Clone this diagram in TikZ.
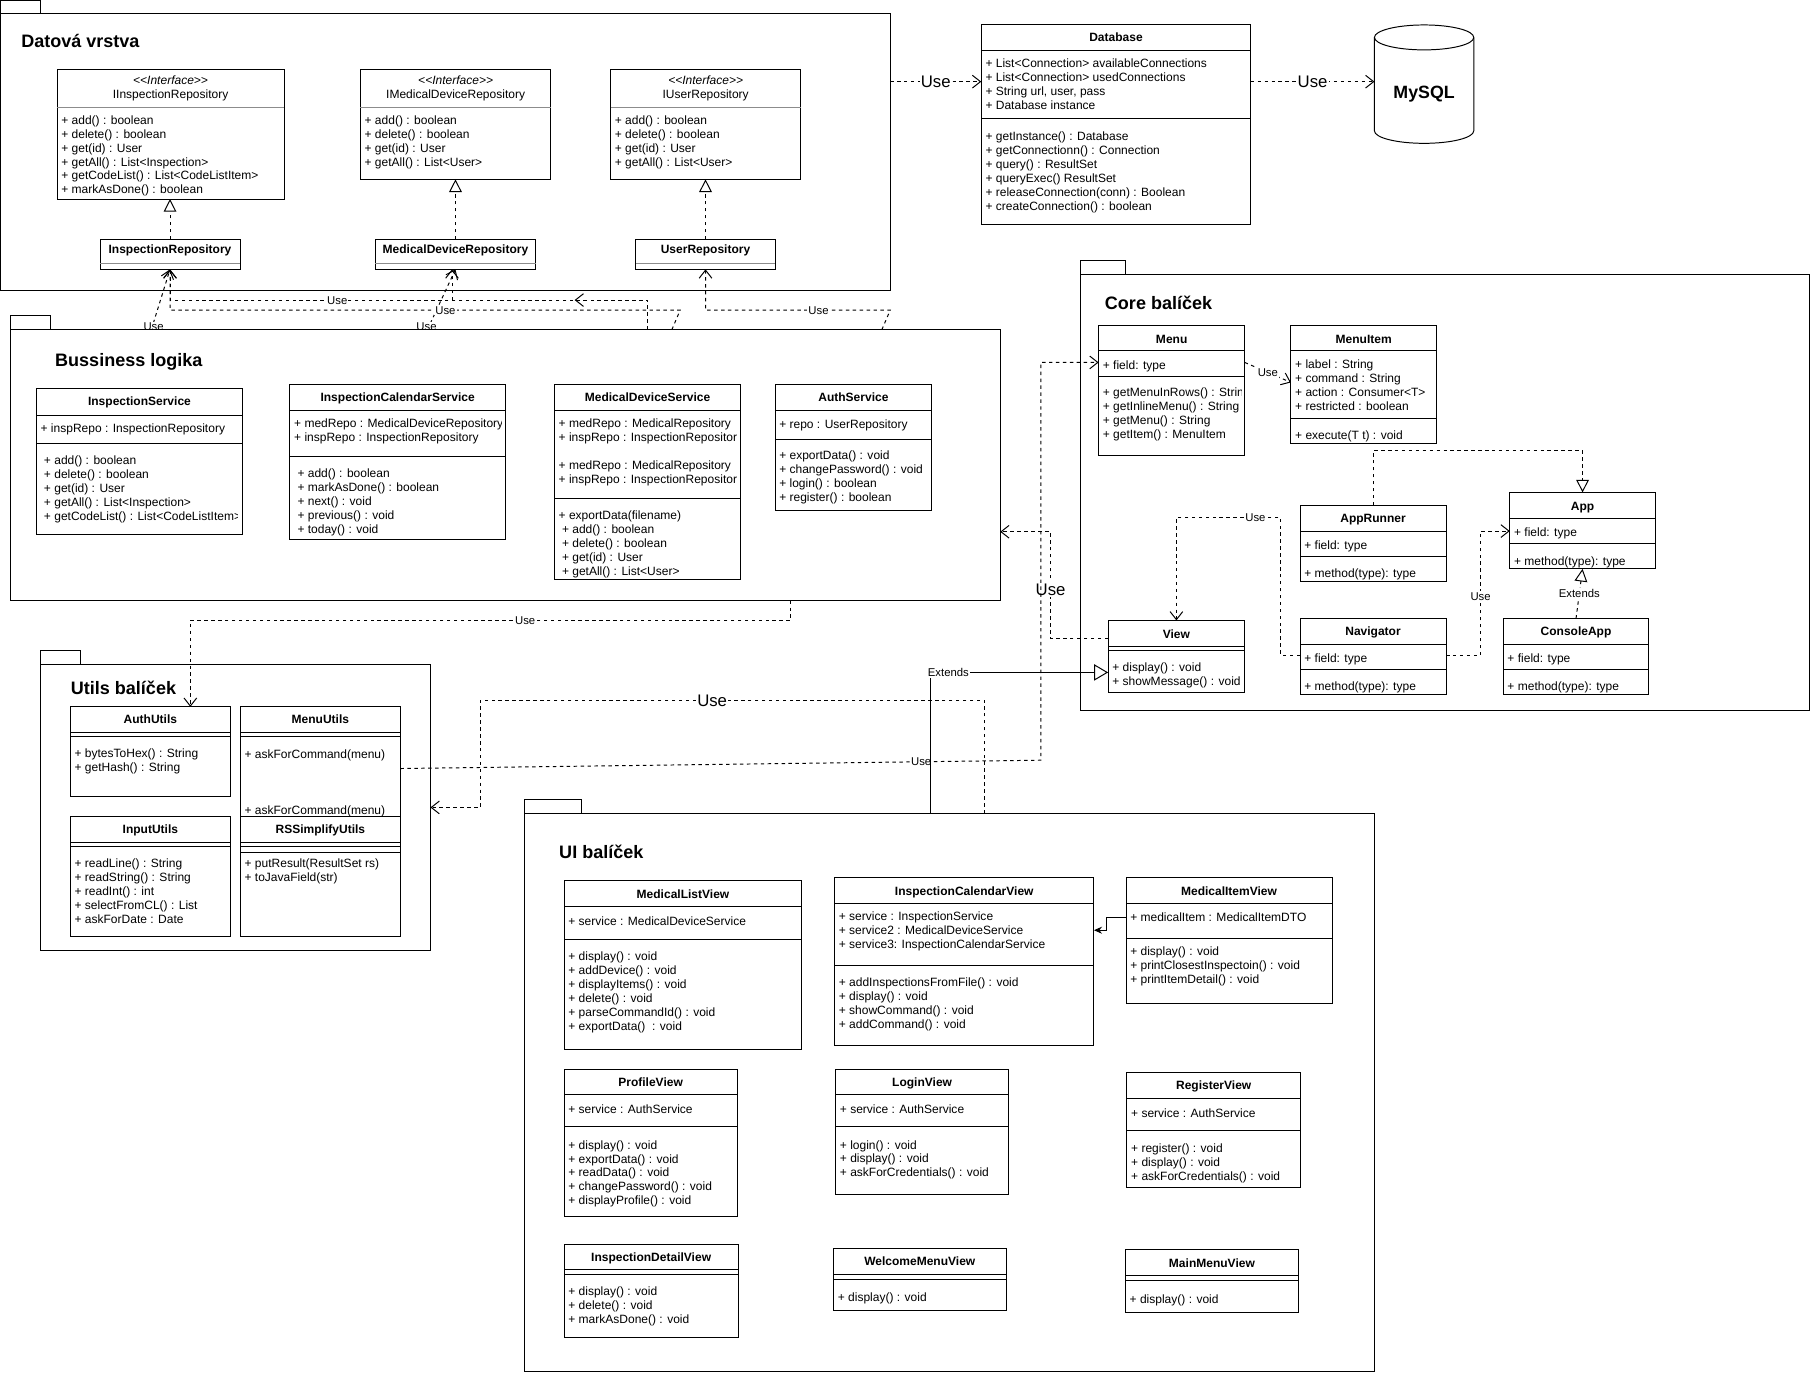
\documentclass[tikz,border=0pt]{standalone}
\usepackage{fontspec}
\setmainfont{Liberation Sans}
\newfontfamily\stereofont{Liberation Sans}
\usetikzlibrary{arrows.meta,calc,positioning}

\newcommand{\clsfont}{\fontsize{10.4pt}{12.1pt}\selectfont}
% class box: [sep style]{name}{top left}{width}{height}{separator rows}
\newcommand{\umlclass}[6][clsline]{%
  \node[clsbox, minimum width=#4pt, minimum height=#5pt, anchor=north west] (#2) at (#3) {};
  \foreach \s in {#6} {\draw[#1] (#2.west |- 0,\s) -- (#2.east |- 0,\s);}%
}
\newcommand{\umltitle}[3]{\node[clstitle] (#1-t) at (#1.north |- 0,#2) {#3};}
\newcommand{\umlname}[3]{\node[clsname] (#1-n) at (#1.north |- 0,#2) {#3};}
\newcommand{\umlstereo}[2]{\node[clsstereo] (#1-s) at (#1.north |- 0,#2) {{<}{<}Interface{>}{>}};}
\newcommand{\umlrows}[4]{\node[clsrows, xshift=3.5pt, yshift=4.8pt] (#1-#2) at (#1.west |- 0,#3) {#4};}
% package: {name}{top left}{width}{height}{tab width}
\newcommand{\umlpkg}[5]{%
  \draw[pkgbox] ($(#2)+(0,-12)$) rectangle ++(#5,12);
  \node[pkgbox, minimum width=#3pt, minimum height=#4pt, anchor=north west] (#1) at (#2) {};
}

\begin{document}
\begin{tikzpicture}[x=1pt, y=-1pt,
    pkgbox/.style={draw, fill=white, line width=0.85pt, inner sep=0pt, outer sep=0pt},
    clsbox/.style={draw, fill=white, line width=0.85pt, inner sep=0pt, outer sep=0pt},
    clsline/.style={line width=0.85pt},
    grayline/.style={line width=0.85pt, draw=black!45},
    clstitle/.style={font=\bfseries\clsfont, inner sep=0pt, text height=8pt, text depth=1pt},
    clsname/.style={font=\clsfont, inner sep=0pt, text height=8pt, text depth=1pt},
    clsstereo/.style={font=\stereofont\itshape\clsfont, inner sep=0pt, text height=8pt, text depth=1pt},
    clsrows/.style={font=\clsfont, anchor=north west, align=left, inner sep=0pt, execute at begin node=\strut},
    pkgtitle/.style={font=\bfseries\fontsize{15.6pt}{18pt}\selectfont, anchor=west, inner sep=0pt, text height=11.2pt, text depth=0pt},
    lbl/.style={fill=white, inner sep=1pt, font=\fontsize{9.8pt}{11pt}\selectfont, text height=7pt, text depth=0pt},
    biglbl/.style={fill=white, inner sep=1pt, font=\fontsize{14.5pt}{17pt}\selectfont, text height=10.4pt, text depth=0pt},
    conn/.style={line width=0.85pt},
    usearrow/.style={conn, dash pattern=on 3pt off 3pt, -{Straight Barb[length=7pt, width=11pt]}},
    realarrow/.style={conn, dash pattern=on 3pt off 3pt, -{Triangle[open, length=11pt, width=11pt]}},
    extarrow/.style={conn, -{Triangle[open, length=12pt, width=14pt]}},
    assocarrow/.style={conn, -{Stealth[length=7pt, width=6pt]}}]
  \useasboundingbox (0,0) rectangle (1568,1188);

  % Datova vrstva
  \umlpkg{dv}{0,12}{770.7}{239.4}{35.2}
  \node[pkgtitle] (dv-t) at (18.3,35.5) {Datová vrstva};
  \umlclass[grayline]{iir}{49.4,59.8}{196.6}{112.5}{92.9}
  \umlstereo{iir}{69.3}
  \umlname{iir}{81.4}{IInspectionRepository}
  \umlrows{iir}{m}{104.5}{+ add() : boolean\\+ delete() : boolean\\+ get(id) : User\\+ getAll() : List<Inspection>\\+ getCodeList() : List<CodeListItem>\\+ markAsDone() : boolean}
  \umlclass[grayline]{irepo}{86.6,207}{121.2}{26.2}{228}
  \umltitle{irepo}{216.2}{InspectionRepository}
  \umlclass[grayline]{imdr}{312,59.8}{165}{95.5}{92.9}
  \umlstereo{imdr}{69.3}
  \umlname{imdr}{81.4}{IMedicalDeviceRepository}
  \umlrows{imdr}{m}{104.5}{+ add() : boolean\\+ delete() : boolean\\+ get(id) : User\\+ getAll() : List<User>}
  \umlclass[grayline]{mdr}{324.8,207}{139.1}{26.2}{228}
  \umltitle{mdr}{216.2}{MedicalDeviceRepository}
  \umlclass[grayline]{iur}{528.6,59.8}{164.8}{95.5}{92.9}
  \umlstereo{iur}{69.3}
  \umlname{iur}{81.4}{IUserRepository}
  \umlrows{iur}{m}{104.5}{+ add() : boolean\\+ delete() : boolean\\+ get(id) : User\\+ getAll() : List<User>}
  \umlclass[grayline]{ur}{550.5,207}{120.7}{26.2}{228}
  \umltitle{ur}{216.2}{UserRepository}
  \draw[realarrow] (irepo.north) -- (irepo.north |- iir.south);
  \draw[realarrow] (mdr.north) -- (mdr.north |- imdr.south);
  \draw[realarrow] (ur.north) -- (ur.north |- iur.south);

  % Database, MySQL
  \umlclass{db}{849.6,20.8}{233.3}{173.2}{43.9,102.2}
  \umltitle{db}{32.6}{Database}
  \umlrows{db}{a}{55.4}{+ List<Connection> availableConnections\\+ List<Connection> usedConnections\\+ String url, user, pass\\+ Database instance}
  \umlrows{db}{m}{118.9}{+ getInstance() : Database\\+ getConnectionn() : Connection\\+ query() : ResultSet\\+ queryExec() ResultSet\\+ releaseConnection(conn) : Boolean\\+ createConnection() : boolean}
  \node[inner sep=0pt, outer sep=0pt, minimum width=86pt, minimum height=102.5pt, anchor=north west] (mysql) at (1190,21.6) {};
  \draw[clsline, fill=white] ($(mysql.north west)+(0,10.8)$) -- ($(mysql.south west)+(0,-10.8)$)
    arc[start angle=180, end angle=360, x radius=43pt, y radius=10.8pt] -- ($(mysql.north east)+(0,10.8)$)
    arc[start angle=0, end angle=180, x radius=43pt, y radius=10.8pt] -- cycle;
  \draw[clsline] ($(mysql.north west)+(0,10.8)$) arc[start angle=180, end angle=360, x radius=43pt, y radius=10.8pt];
  \node[font=\bfseries\fontsize{15.4pt}{18pt}\selectfont, inner sep=0pt, text height=11pt, text depth=0pt] (mysql-t) at (1233,80) {MySQL};
  \draw[usearrow] (dv.east |- 0,70.7) -- (db.west |- 0,70.7) node[biglbl, midway] (u1) {Use};
  \draw[usearrow] (db.east |- 0,70.7) -- (mysql.west |- 0,70.7) node[biglbl, midway] (u2) {Use};

  % services -> repositories
  \coordinate (tA) at (560.6,285.5);
  \coordinate (tB) at (581.7,285.5);
  \coordinate (tC) at (131,285.5);
  \coordinate (tD) at (370,285.5);
  \coordinate (tF) at (763.5,285.5);
  \draw[usearrow] (tA) |- ($(irepo.south)+(0,26.6)$) -- (irepo.south);
  \draw[usearrow] (tB) -- (588.9,268.5) -| (irepo.south);
  \draw[usearrow] (tC) -- (irepo.south);
  \draw[usearrow] (tD) -- (mdr.south);
  \draw[usearrow] ($(mdr.south)+(-3,26.6)$) -- ($(mdr.south)+(-3,0)$);
  \draw[usearrow] (507.5,259.8) -- (497.5,259.8);
  \draw[usearrow] (tF) -- (770.8,268.5) -| (ur.south);
  \node[lbl] (u3) at (292,259.8) {Use};
  \node[lbl] (u4) at (385.7,268.5) {Use};
  \node[lbl] (u5) at (133,283) {Use};
  \node[lbl] (u6) at (369.3,283) {Use};
  \node[lbl] (u7) at (708.7,268.5) {Use};

  % Bussiness logika
  \umlpkg{bl}{9,285.5}{857}{234.5}{35}
  \node[pkgtitle] (bl-t) at (47.6,312) {Bussiness logika};
  \umlclass{isvc}{31.5,336.6}{178.5}{126.4}{359.4,384}
  \umltitle{isvc}{348}{InspectionService}
  \umlrows{isvc}{a}{370.4}{+ inspRepo : InspectionRepository}
  \begin{scope}
    \clip (isvc.north west) rectangle ([xshift=-4.5pt]isvc.south east);
    \umlrows{isvc}{m}{399}{~+ add() : boolean\\~+ delete() : boolean\\~+ get(id) : User\\~+ getAll() : List<Inspection>\\~+ getCodeList() : List<CodeListItem>}
  \end{scope}
  \umlclass{icsvc}{251,332.6}{186.6}{134.2}{355,395.5}
  \umltitle{icsvc}{344.4}{InspectionCalendarService}
  \begin{scope}
    \clip (icsvc.north west) rectangle ([xshift=-3.5pt]icsvc.south east);
    \umlrows{icsvc}{a}{367.2}{+ medRepo : MedicalDeviceRepository\\+ inspRepo : InspectionRepository}
  \end{scope}
  \umlrows{icsvc}{m}{410.2}{~+ add() : boolean\\~+ markAsDone() : boolean\\~+ next() : void\\~+ previous() : void\\~+ today() : void}
  \umlclass{mdsvc}{480,332.6}{161.4}{169.4}{355,432}
  \umltitle{mdsvc}{344.4}{MedicalDeviceService}
  \begin{scope}
    \clip (mdsvc.north west) rectangle ([xshift=-3.5pt]mdsvc.south east);
    \umlrows{mdsvc}{a}{367.2}{+ medRepo : MedicalRepository\\+ inspRepo : InspectionRepository\\[12.1pt]+ medRepo : MedicalRepository\\+ inspRepo : InspectionRepository}
  \end{scope}
  \umlrows{mdsvc}{m}{446.6}{+ exportData(filename)\\~+ add() : boolean\\~+ delete() : boolean\\~+ get(id) : User\\~+ getAll() : List<User>}
  \umlclass{asvc}{671,332.6}{135.8}{109.1}{355,380.5}
  \umltitle{asvc}{344.4}{AuthService}
  \umlrows{asvc}{a}{367.2}{+ repo : UserRepository}
  \umlrows{asvc}{m}{394.6}{+ exportData() : void\\+ changePassword() : void\\+ login() : boolean\\+ register() : boolean}

  % Core balicek
  \umlpkg{core}{935.6,237.6}{631.4}{377.3}{38.9}
  \node[pkgtitle] (core-t) at (956.5,262.7) {Core balíček};
  \umlclass{menu}{951.2,281.5}{126.5}{112.5}{303.7,325.6}
  \umltitle{menu}{293.6}{Menu}
  \umlrows{menu}{a}{316.1}{+ field: type}
  \begin{scope}
    \clip (menu.north west) rectangle ([xshift=-2.5pt]menu.south east);
    \umlrows{menu}{m}{340.3}{+ getMenuInRows() : String\\+ getInlineMenu() : String\\+ getMenu() : String\\+ getItem() : MenuItem}
  \end{scope}
  \umlclass{mitem}{1117.7,281.5}{126.1}{102.4}{303.7,362.3}
  \umltitle{mitem}{293.6}{MenuItem}
  \umlrows{mitem}{a}{316.1}{+ label : String\\+ command : String\\+ action : Consumer<T>\\+ restricted : boolean}
  \umlrows{mitem}{m}{376.4}{+ execute(T t) : void}
  \umlclass{arun}{1125.6,437.3}{126.4}{65.8}{459.8,481.8}
  \umltitle{arun}{449.2}{AppRunner}
  \umlrows{arun}{a}{472}{+ field: type}
  \umlrows{arun}{m}{496}{+ method(type): type}
  \umlclass{app}{1307.2,426.4}{126}{66.1}{448.9,470.8}
  \umltitle{app}{438.2}{App}
  \umlrows{app}{a}{460.4}{+ field: type}
  \umlrows{app}{m}{485.6}{+ method(type): type}
  \umlclass{view}{959.4,537.2}{118.3}{62.3}{560,562.9}
  \umltitle{view}{549.6}{View}
  \umlrows{view}{m}{578.2}{+ display() : void\\+ showMessage() : void}
  \umlclass{nav}{1125.6,535.5}{126.4}{65.8}{558,579.7}
  \umltitle{nav}{547}{Navigator}
  \umlrows{nav}{a}{569.5}{+ field: type}
  \umlrows{nav}{m}{594.1}{+ method(type): type}
  \umlclass{capp}{1301.5,535.5}{126.1}{65.8}{558,579.7}
  \umltitle{capp}{547}{ConsoleApp}
  \umlrows{capp}{a}{569.5}{+ field: type}
  \umlrows{capp}{m}{594.1}{+ method(type): type}
  \draw[usearrow] (menu.east |- 0,313.8) -- (mitem.west |- 0,331.1) node[lbl, midway] (u8) {Use};
  \draw[realarrow] (arun.north) |- ($(app.north)+(0,-36.1)$) -- (app.north);
  \draw[realarrow] (capp.north) -- (app.south) node[lbl, midway] (e1) {Extends};
  \draw[usearrow] (nav.west |- 0,567.2) -| (1108.8,448) -| (view.north);
  \node[lbl] (u9) at (1087,448) {Use};
  \draw[usearrow] (nav.east |- 0,567.2) -| (1281.9,459.8) -- (app.west |- 0,459.8);
  \node[lbl] (u10) at (1281.9,516.1) {Use};

  % Utils balicek
  \umlpkg{ut}{35,575.3}{337.7}{247.4}{35}
  \node[pkgtitle] (ut-t) at (61.2,595.5) {Utils balíček};
  \umlclass{autil}{60.9,612}{138.6}{77.3}{634.2,637.7}
  \umltitle{autil}{623}{AuthUtils}
  \umlrows{autil}{m}{653}{+ bytesToHex() : String\\+ getHash() : String}
  \umlclass{mutil}{208.1,612}{138.6}{94.7}{634.2,637.7}
  \umltitle{mutil}{623}{MenuUtils}
  \umlrows{mutil}{m}{653}{+ askForCommand(menu)}
  \umlrows{mutil}{m2}{701.2}{+ askForCommand(menu)}
  \umlclass{iutil}{60.9,707.3}{138.6}{103.3}{729.5,732.6}
  \umltitle{iutil}{718.5}{InputUtils}
  \umlrows{iutil}{m}{748}{+ readLine() : String\\+ readString() : String\\+ readInt() : int\\+ selectFromCL() : List\\+ askForDate : Date}
  \umlclass{rsutil}{208.1,707.3}{138.6}{103.3}{729.5,733.2,738.1}
  \umltitle{rsutil}{718.5}{RSSimplifyUtils}
  \umlrows{rsutil}{m}{748}{+ putResult(ResultSet rs)\\+ toJavaField(str)}

  % UI balicek
  \umlpkg{ui}{453.9,704.3}{736.1}{483.2}{49.5}
  \node[pkgtitle] (ui-t) at (484,738) {UI balíček};
  \umlclass{mlv}{488.4,762.7}{205.9}{146}{785.2,813.2}
  \umltitle{mlv}{774}{MedicalListView}
  \umlrows{mlv}{a}{797.3}{+ service : MedicalDeviceService}
  \umlrows{mlv}{m}{828.5}{+ display() : void\\+ addDevice() : void\\+ displayItems() : void\\+ delete() : void\\+ parseCommandId() : void\\+ exportData()~ : void}
  \umlclass{icv}{722.6,759.8}{224.5}{145.8}{782,835.7}
  \umltitle{icv}{771.6}{InspectionCalendarView}
  \umlrows{icv}{a}{794.4}{+ service : InspectionService\\+ service2 : MedicalDeviceService\\+ service3: InspectionCalendarService}
  \umlrows{icv}{m}{851.6}{+ addInspectionsFromFile() : void\\+ display() : void\\+ showCommand() : void\\+ addCommand() : void}
  \umlclass{miv}{974.9,759.8}{178.4}{109.1}{782,812.3}
  \umltitle{miv}{771.6}{MedicalItemView}
  \umlrows{miv}{a}{794.4}{+ medicalItem : MedicalItemDTO}
  \umlrows{miv}{m}{824.7}{+ display() : void\\+ printClosestInspectoin() : void\\+ printItemDetail() : void}
  \umlclass{pv}{488.4,925.8}{149.8}{127.2}{948,975.7}
  \umltitle{pv}{937}{ProfileView}
  \umlrows{pv}{a}{959.8}{+ service : AuthService}
  \umlrows{pv}{m}{991.9}{+ display() : void\\+ exportData() : void\\+ readData() : void\\+ changePassword() : void\\+ displayProfile() : void}
  \umlclass{lv}{723.5,925.8}{149.8}{108.8}{948,975.7}
  \umltitle{lv}{937}{LoginView}
  \umlrows{lv}{a}{959.8}{+ service : AuthService}
  \umlrows{lv}{m}{991.9}{+ login() : void\\+ display() : void\\+ askForCredentials() : void}
  \umlclass{rv}{975.7,928.9}{150.3}{99.6}{950.9,979.2}
  \umltitle{rv}{940.2}{RegisterView}
  \umlrows{rv}{a}{963.3}{+ service : AuthService}
  \umlrows{rv}{m}{994.7}{+ register() : void\\+ display() : void\\+ askForCredentials() : void}
  \umlclass{idv}{488.4,1077.3}{150.7}{81.1}{1099.2,1103.3}
  \umltitle{idv}{1088.8}{InspectionDetailView}
  \umlrows{idv}{m}{1118.6}{+ display() : void\\+ delete() : void\\+ markAsDone() : void}
  \umlclass{wmv}{721.7,1081}{149.3}{54}{1103.3,1107.9}
  \umltitle{wmv}{1092.6}{WelcomeMenuView}
  \umlrows{wmv}{m}{1123.2}{+ display() : void}
  \umlclass{mmv}{974.4,1081.9}{149.8}{54.6}{1104.7,1108.8}
  \umltitle{mmv}{1094}{MainMenuView}
  \umlrows{mmv}{m}{1124.3}{+ display() : void}
  \draw[assocarrow] (miv.west |- 0,794.4) -| (958,805.4) -- (icv.east |- 0,805.4);

  % between packages
  \draw[usearrow] (view.west |- 0,552.8) -| (909.6,460.4) -- (bl.east |- 0,460.4);
  \node[biglbl] (u11) at (909.6,510.4) {Use};
  \draw[usearrow] (mutil.east |- 0,665.4) -- (901.2,658.2) |- (menu.west |- 0,313.8);
  \node[lbl] (u12) at (797.6,659.6) {Use};
  \draw[usearrow] (bl.south -| 684.6,0) |- (164.8,537.2) -- (autil.north -| 164.8,0);
  \node[lbl] (u13) at (454.7,537.2) {Use};
  \draw[usearrow] (ui.north -| 852.5,0) |- (416,606.2) |- (ut.east |- 0,699.1);
  \node[biglbl] (u14) at (616.6,606.8) {Use};
  \draw[extarrow] (ui.north -| 805.3,0) |- (view.west |- 0,582.2);
  \node[lbl] (e2) at (821.1,582.2) {Extends};
\end{tikzpicture}
\end{document}
